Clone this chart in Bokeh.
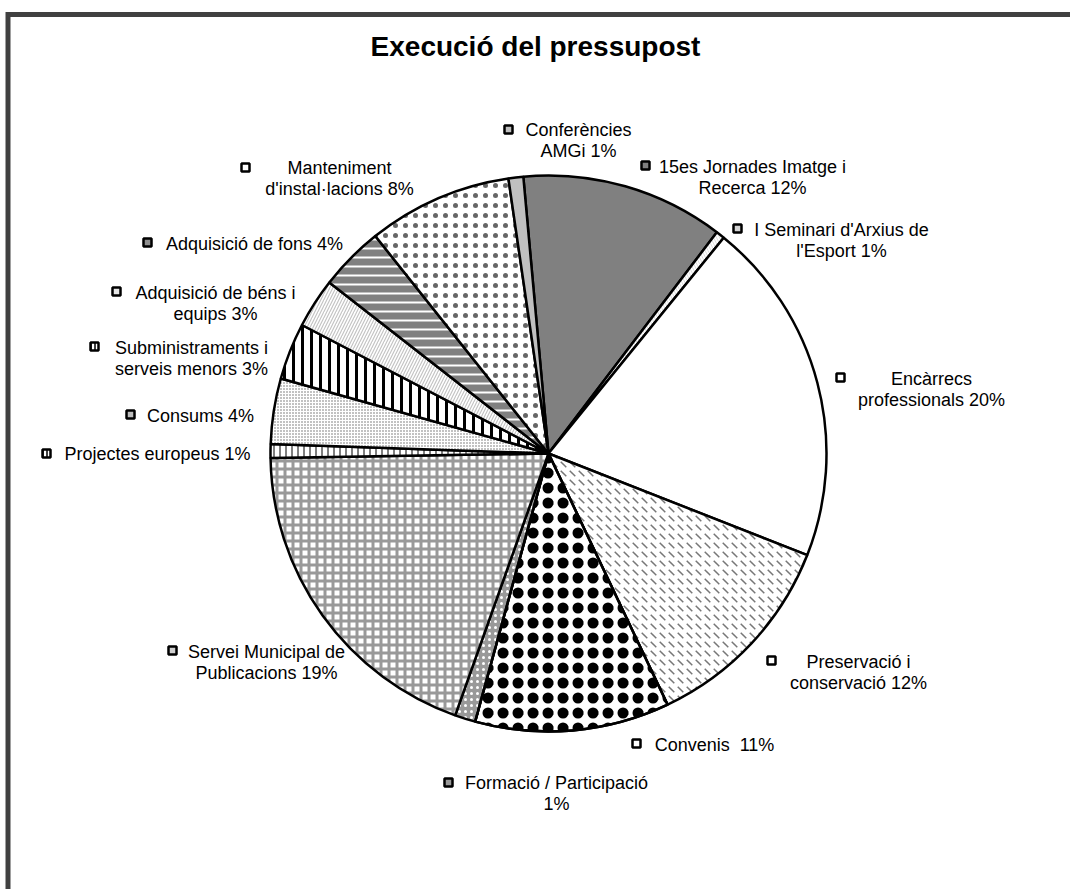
import math
from bokeh.plotting import figure
from bokeh.models import ColumnDataSource, Range1d
from bokeh.core.properties import value
from bokeh.embed import file_html
from bokeh.resources import INLINE

# ---------------- data ----------------
categories = [
    "15es Jornades Imatge i Recerca",
    "I Seminari d'Arxius de l'Esport",
    "Encàrrecs professionals",
    "Preservació i conservació",
    "Convenis",
    "Formació / Participació",
    "Servei Municipal de Publicacions",
    "Projectes europeus",
    "Consums",
    "Subministraments i serveis menors",
    "Adquisició de béns i equips",
    "Adquisició de fons",
    "Manteniment d'instal·lacions",
    "Conferències AMGi",
]
shares = [11.8, 0.5, 20.1, 12.0, 11.3, 1.2, 19.3, 0.8, 3.8, 3.3, 2.9, 3.75, 8.4, 0.86]
label_lines = [
    ["15es Jornades Imatge i", "Recerca 12%"],
    ["I Seminari d'Arxius de", "l'Esport 1%"],
    ["Encàrrecs", "professionals 20%"],
    ["Preservació i", "conservació 12%"],
    ["Convenis \u00a011%"],
    ["Formació / Participació", "1%"],
    ["Servei Municipal de", "Publicacions 19%"],
    ["Projectes europeus 1%"],
    ["Consums 4%"],
    ["Subministraments i", "serveis menors 3%"],
    ["Adquisició de béns i", "equips 3%"],
    ["Adquisició de fons 4%"],
    ["Manteniment", "d'instal·lacions 8%"],
    ["Conferències", "AMGi 1%"],
]
title = "Execució del pressupost"

# ---------------- styles / layout ----------------
fills = ["#808080", "#d4d4d4", "#ffffff", "#ffffff", "#ffffff", "#999999", "#ffffff",
         "#ffffff", "#ffffff", "#ffffff", "#ffffff", "#808080", "#ffffff", "#c0c0c0"]
hatches = [" ", "\\", " ", "`", ".", ".", "+", "|", ".", "|", "/", "-", ".", " "]
hatch_colors = ["white", "white", "white", "#777777", "black", "white", "#999999",
                "black", "#666666", "black", "#c4c4c4", "white", "#666666", "white"]
hatch_scales = [12, 6, 12, 9, 15, 6, 8, 6, 3, 9, 6, 9, 10, 12]
hatch_weights = [1, 2, 1, 1.5, 4, 1, 3, 1, 1, 3, 1.2, 2, 0.2, 1]
marker_fills = ["#808080", "#d4d4d4", "#ffffff", "#ffffff", "#ffffff", "#999999", "#cfcfcf",
                "#ffffff", "#bdbdbd", "#ffffff", "#e6e6e6", "#909090", "#ffffff", "#c0c0c0"]
marker_hatch = [" ", " ", " ", " ", " ", " ", " ", "|", " ", "|", " ", " ", " ", " "]
# second pattern layer (ring) that enlarges the dots of "Convenis"
overlay_index = 4

# label layout in page pixels: marker x, marker y, text centre x, first line y
label_layout = [
    (645, 165, 752, 166),
    (737, 228, 841, 229),
    (840, 377, 931, 378),
    (771, 660, 858, 661),
    (636, 743, 714, 744),
    (448, 782, 556, 782),
    (172, 650, 266, 651),
    (46, 453, 157, 453),
    (130, 414, 200, 415),
    (94, 346, 191, 347),
    (116, 291, 215, 292),
    (147, 242, 254, 243),
    (245, 167, 339, 167),
    (508, 129, 578, 129),
]
LINE_STEP = 21.5

W, H = 1070, 889
def px(X):
    return X
def py(Y):
    return H - Y

CX, CY, R = px(548), py(453), 278
START_DEG = -5.2  # clockwise from 12 o'clock

p = figure(width=W, height=H, x_range=Range1d(0, W), y_range=Range1d(0, H),
           output_backend="svg", toolbar_location=None, min_border=0)
p.axis.visible = False
p.grid.visible = False
p.outline_line_color = None
p.background_fill_color = "white"
p.border_fill_color = "white"

# frame (partially clipped, as in the reference)
p.line(x=[7.5, 7.5, W + 20], y=[-20, py(14), py(14)], line_color="#404040", line_width=5,
       line_join="miter")

# wedges
total = sum(shares)
starts, ends = [], []
acc = START_DEG
for v in shares:
    a1 = acc
    a2 = acc + v / total * 360.0
    starts.append(math.radians(90 - a1))
    ends.append(math.radians(90 - a2))
    acc = a2

src = ColumnDataSource(dict(
    start=starts, end=ends, fill=fills, hatch=hatches, hcol=hatch_colors,
    hscale=hatch_scales, hweight=hatch_weights, name=categories))
p.wedge(x=CX, y=CY, radius=R, start_angle="start", end_angle="end", direction="clock",
        fill_color="fill", hatch_pattern="hatch", hatch_color="hcol",
        hatch_scale="hscale", hatch_weight="hweight",
        line_color="black", line_width=2.5, source=src)

ov = ColumnDataSource(dict(start=[starts[overlay_index]], end=[ends[overlay_index]]))
p.wedge(x=CX, y=CY, radius=R, start_angle="start", end_angle="end", direction="clock",
        fill_alpha=0, hatch_pattern="o", hatch_color="black",
        hatch_scale=hatch_scales[overlay_index], hatch_weight=3.5,
        line_color="black", line_width=2.5, source=ov)

# labels
mx = [px(l[0]) for l in label_layout]
my = [py(l[1]) for l in label_layout]
p.rect(x=mx, y=my, width=8, height=8, fill_color=marker_fills, hatch_pattern=marker_hatch,
       hatch_color="black", hatch_scale=4, hatch_weight=1.5,
       line_color="black", line_width=2.5)

tx, ty, tt = [], [], []
for lines, lay in zip(label_lines, label_layout):
    for i, s in enumerate(lines):
        tx.append(px(lay[2]))
        ty.append(py(lay[3] + i * LINE_STEP))
        tt.append(s)
p.text(x=tx, y=ty, text=tt, text_align="center", text_baseline="middle",
       text_font=value("Liberation Sans"), text_font_size="18px", text_color="black")

p.text(x=[px(535)], y=[py(46)], text=[title], text_align="center", text_baseline="middle",
       text_font=value("Liberation Sans"), text_font_size="28px", text_font_style="bold",
       text_color="black")

open("out.html", "w").write(file_html(p, INLINE))
